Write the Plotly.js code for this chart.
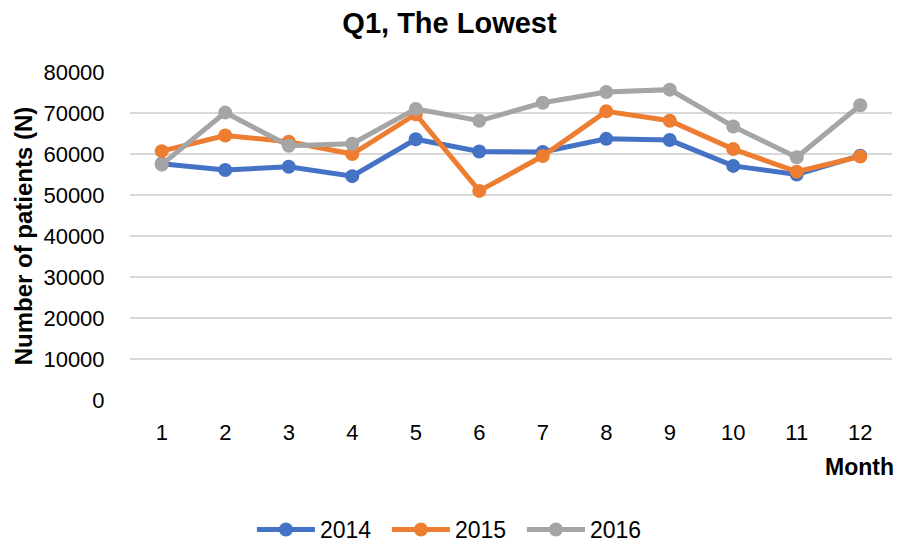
<!DOCTYPE html>
<html>
<head>
<meta charset="utf-8">
<script src="https://cdn.plot.ly/plotly-3.0.1.min.js"></script>
<style>html,body{margin:0;padding:0;background:#fff;}#chart{width:899px;height:550px;}</style>
</head>
<body>
<div id="chart"></div>
<script>
const months = ["1","2","3","4","5","6","7","8","9","10","11","12"];
const seriesNames = ["2014","2015","2016"];
const v2014 = [57600, 56100, 56900, 54600, 63600, 60600, 60500, 63700, 63400, 57100, 55000, 59600];
const v2015 = [60700, 64500, 63000, 60000, 69700, 51000, 59500, 70400, 68100, 61200, 55700, 59400];
const v2016 = [57400, 70100, 62000, 62500, 71000, 68100, 72500, 75100, 75700, 66700, 59200, 71900];
const colors = ["#4472C4", "#ED7D31", "#A5A5A5"];

const all = [v2014, v2015, v2016];
const traces = all.map((vals, i) => ({
  x: months, y: vals, name: seriesNames[i], type: "scatter", mode: "lines+markers",
  line: {color: colors[i], width: 5},
  marker: {color: colors[i], size: 14}
}));

const layout = {
  width: 899, height: 550,
  margin: {l: 130, r: 7, t: 72, b: 150, autoexpand: false},
  paper_bgcolor: "#fff", plot_bgcolor: "#fff",
  font: {family: "Liberation Sans, Arial, sans-serif", color: "#000", size: 22},
  title: {text: "<b>Q1, The Lowest</b>", x: 0.5, xanchor: "center", y: 0.958, yanchor: "middle", font: {size: 29, color: "#000"}},
  xaxis: {type: "category", range: [-0.5, 11.5], showgrid: false, zeroline: false, showline: false,
          ticks: "outside", ticklen: 13, tickcolor: "rgba(0,0,0,0)", tickfont: {size: 22}},
  yaxis: {range: [0, 80000], dtick: 10000, showgrid: true, gridcolor: "#D9D9D9", gridwidth: 1.5,
          zeroline: false, showline: false, tickformat: "d",
          ticks: "outside", ticklen: 20, tickcolor: "rgba(0,0,0,0)", tickfont: {size: 22},
          title: {text: "<b>Number of patients (N)</b>", font: {size: 24}, standoff: 4}},
  showlegend: true,
  legend: {orientation: "h", x: 0.16, xanchor: "left", y: -0.395, yanchor: "middle", font: {size: 23},
           traceorder: "normal", itemwidth: 58, entrywidth: 62, entrywidthmode: "pixels"},
  annotations: [{text: "<b>Month</b>", xref: "paper", yref: "paper", x: 1.005, xanchor: "right", y: -0.205, yanchor: "middle",
                 showarrow: false, font: {size: 23, color: "#000"}}]
};
Plotly.newPlot("chart", traces, layout, {displayModeBar: false, staticPlot: true});
</script>
</body>
</html>
